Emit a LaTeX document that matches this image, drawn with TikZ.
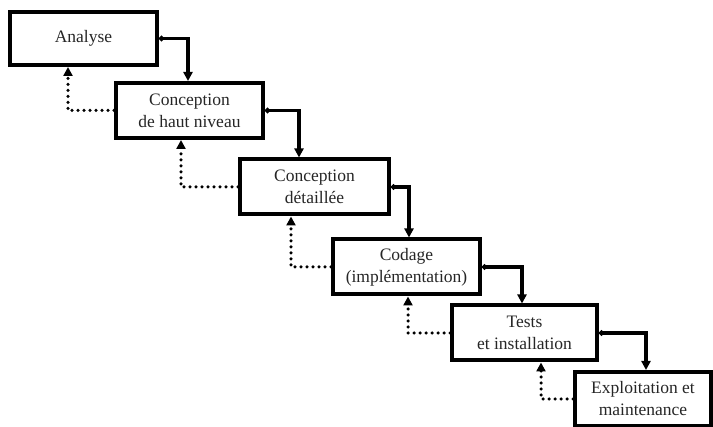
\documentclass[tikz,border=0pt]{standalone}
\usepackage{fontspec}
\setmainfont{Liberation Serif}
\usetikzlibrary{arrows.meta}
\begin{document}
\begin{tikzpicture}[x=1pt, y=-1pt, >={Triangle[width=9pt, length=9pt]},
    phase/.style={draw, line width=4pt, align=center, inner sep=0pt, text=black!85,
      font=\fontsize{17.5}{22}\selectfont, minimum width=147pt, minimum height=55pt},
    flow/.style={line width=3.5pt, {Circle[length=5pt]}->},
    back/.style={line width=3.5pt, dash pattern=on 0pt off 6pt, line cap=round, ->}]
    \useasboundingbox (0,0) rectangle (713,427);
    \node[phase, minimum height=53pt] (analyse) at (83.5, 38.5) {Analyse};
    \node[phase] (haut) at (189.5, 110.5) {Conception\\de haut niveau};
    \node[phase, minimum width=149pt] (detail) at (314.5, 187) {Conception\\détaillée};
    \node[phase] (codage) at (406.5, 267) {Codage\\(implémentation)};
    \node[phase, minimum width=145pt] (tests) at (524.5, 333) {Tests\\et installation};
    \node[phase, minimum width=136pt, minimum height=54pt] (exploit) at (643, 399) {Exploitation et\\maintenance};
    % passage a la phase suivante
    \draw[flow] (analyse.east) -| ([xshift=74pt]haut.north west);
    \draw[flow] (haut.east) -| ([xshift=61pt]detail.north west);
    \draw[flow] (detail.east) -| ([xshift=78pt]codage.north west);
    \draw[flow] (codage.east) -| ([xshift=72pt]tests.north west);
    \draw[flow] (tests.east) -| ([xshift=73pt]exploit.north west);
    % retours en arriere
    \draw[back] (haut.west) -| ([xshift=60pt]analyse.south west);
    \draw[back] (detail.west) -| ([xshift=67pt]haut.south west);
    \draw[back] (codage.west) -| ([xshift=53pt]detail.south west);
    \draw[back] (tests.west) -| ([xshift=77pt]codage.south west);
    \draw[back] (exploit.west) -| ([xshift=91pt]tests.south west);
\end{tikzpicture}
\end{document}
